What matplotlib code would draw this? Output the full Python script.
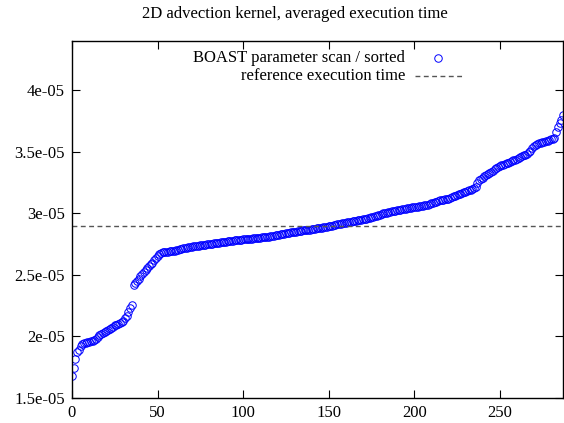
import matplotlib
matplotlib.use("Agg")
import matplotlib.pyplot as plt
import numpy as np
from matplotlib.ticker import FuncFormatter, FixedLocator
from matplotlib.lines import Line2D

title = "2D advection kernel, averaged execution time"
scan_label = "BOAST parameter scan / sorted"
ref_label = "reference execution time"

# sorted execution times (units of 1e-5 s)
times_e5 = [
    1.680, 1.745, 1.820, 1.875, 1.890, 1.920, 1.935, 1.945, 1.950, 1.955,
    1.957, 1.960, 1.965, 1.970, 1.980, 1.995, 2.010, 2.020, 2.030, 2.040,
    2.046, 2.054, 2.062, 2.070, 2.080, 2.090, 2.097, 2.104, 2.111, 2.118,
    2.127, 2.147, 2.165, 2.200, 2.228, 2.255, 2.420, 2.435, 2.450, 2.470,
    2.490, 2.510, 2.525, 2.540, 2.555, 2.570, 2.585, 2.600, 2.620, 2.640,
    2.655, 2.668, 2.678, 2.683, 2.686, 2.688, 2.690, 2.691, 2.692, 2.694,
    2.697, 2.700, 2.704, 2.708, 2.712, 2.715, 2.718, 2.721, 2.724, 2.727,
    2.729, 2.731, 2.733, 2.736, 2.738, 2.740, 2.742, 2.744, 2.746, 2.748,
    2.750, 2.752, 2.754, 2.756, 2.758, 2.760, 2.762, 2.764, 2.766, 2.768,
    2.770, 2.772, 2.774, 2.776, 2.778, 2.780, 2.782, 2.783, 2.785, 2.786,
    2.788, 2.789, 2.791, 2.792, 2.794, 2.795, 2.797, 2.798, 2.800, 2.801,
    2.803, 2.804, 2.806, 2.807, 2.809, 2.810, 2.813, 2.816, 2.819, 2.822,
    2.826, 2.828, 2.831, 2.833, 2.836, 2.838, 2.841, 2.843, 2.845, 2.848,
    2.850, 2.852, 2.855, 2.857, 2.860, 2.862, 2.864, 2.865, 2.867, 2.868,
    2.870, 2.872, 2.875, 2.877, 2.880, 2.882, 2.885, 2.887, 2.890, 2.892,
    2.895, 2.898, 2.901, 2.904, 2.907, 2.910, 2.913, 2.916, 2.919, 2.922,
    2.925, 2.927, 2.929, 2.931, 2.934, 2.937, 2.939, 2.942, 2.945, 2.947,
    2.950, 2.954, 2.958, 2.962, 2.966, 2.970, 2.974, 2.978, 2.982, 2.986,
    2.990, 2.995, 3.000, 3.003, 3.006, 3.009, 3.012, 3.016, 3.019, 3.022,
    3.025, 3.028, 3.030, 3.033, 3.035, 3.038, 3.040, 3.043, 3.045, 3.048,
    3.050, 3.051, 3.053, 3.056, 3.059, 3.062, 3.065, 3.068, 3.071, 3.075,
    3.080, 3.085, 3.090, 3.095, 3.100, 3.105, 3.108, 3.110, 3.113, 3.115,
    3.120, 3.126, 3.132, 3.138, 3.144, 3.150, 3.155, 3.160, 3.165, 3.170,
    3.175, 3.181, 3.187, 3.193, 3.199, 3.205, 3.215, 3.250, 3.270, 3.280,
    3.290, 3.300, 3.310, 3.320, 3.328, 3.337, 3.347, 3.357, 3.367, 3.376,
    3.385, 3.390, 3.395, 3.400, 3.405, 3.410, 3.417, 3.424, 3.430, 3.436,
    3.443, 3.449, 3.455, 3.463, 3.470, 3.478, 3.485, 3.495, 3.510, 3.530,
    3.550, 3.558, 3.565, 3.570, 3.573, 3.577, 3.580, 3.585, 3.590, 3.595,
    3.600, 3.607, 3.615, 3.660, 3.700, 3.730, 3.760, 3.797,
]
reference_time = 2.9e-05
x_ticks = [0, 50, 100, 150, 200, 250]
y_ticks = [1.5e-05, 2e-05, 2.5e-05, 3e-05, 3.5e-05, 4e-05]

times = np.array(times_e5) * 1e-5
idx = np.arange(len(times))

plt.rcParams['font.family'] = ['Liberation Serif', 'DejaVu Serif']
plt.rcParams['font.size'] = 12

fig = plt.figure(figsize=(5.64, 4.23), dpi=100)
ax = fig.add_axes([72/564, 1 - 398/423, (563 - 72)/564, (398 - 41)/423])

marker_style = dict(linestyle='none', marker='o', markersize=5.4,
                    markerfacecolor='none', markeredgecolor='#0000ff',
                    markeredgewidth=0.7)
ref_style = dict(color='#555555', linestyle=(0, (3.5, 2.5)), linewidth=1.0)

ax.plot(idx, times, **marker_style)
ax.axhline(reference_time, **ref_style)

ax.set_xlim(0, 287)
ax.set_ylim(1.5e-05, 4.4e-05)
ax.xaxis.set_major_locator(FixedLocator(x_ticks))
ax.yaxis.set_major_locator(FixedLocator(y_ticks))
ax.yaxis.set_major_formatter(FuncFormatter(lambda v, p: '%g' % v))
ax.tick_params(direction='in', length=6, width=0.8, top=True, right=True,
               labelsize=12, pad=5)
for s in ax.spines.values():
    s.set_linewidth(1.0)

fig.text(295/564, 1 - 14/423, title, ha='center', va='center', fontsize=12)

# key (gnuplot style: right-aligned text, sample on the right)
def ax_x(px):
    return (px - 72) / (563 - 72)

def ax_y(py):
    return (398 - py) / (398 - 41)

ax.text(ax_x(405), ax_y(58), scan_label, transform=ax.transAxes,
        ha='right', va='center', fontsize=12)
ax.text(ax_x(405), ax_y(76), ref_label, transform=ax.transAxes,
        ha='right', va='center', fontsize=12)
ax.add_line(Line2D([ax_x(438)], [ax_y(58)], transform=ax.transAxes,
                   **marker_style))
ax.add_line(Line2D([ax_x(415), ax_x(462)], [ax_y(76), ax_y(76)],
                   transform=ax.transAxes, **ref_style))

fig.savefig('out.png', dpi=100)
